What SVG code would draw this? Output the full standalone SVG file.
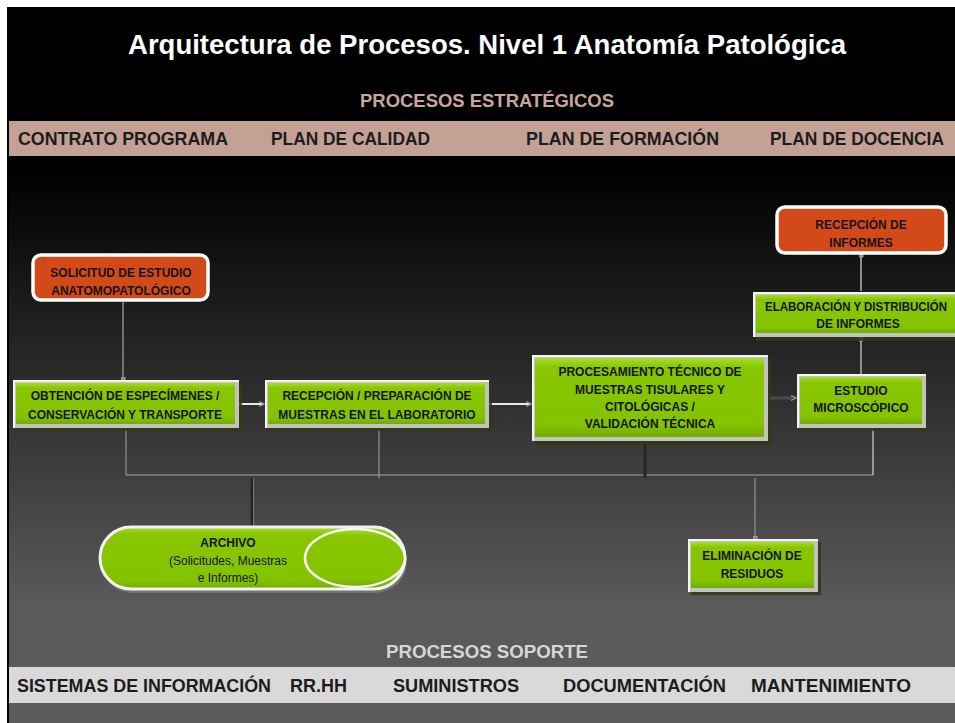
<svg xmlns="http://www.w3.org/2000/svg" width="955" height="723" viewBox="0 0 955 723">
<defs>
<linearGradient id="bg" x1="0" y1="0" x2="0" y2="723" gradientUnits="userSpaceOnUse">
<stop offset="0" stop-color="#000"/>
<stop offset="0.235" stop-color="#000"/>
<stop offset="0.84" stop-color="#5a5a5a"/>
<stop offset="1" stop-color="#5b5b5b"/>
</linearGradient>
<linearGradient id="gr" x1="0" y1="0" x2="0" y2="1">
<stop offset="0" stop-color="#a6dc30"/>
<stop offset="0.12" stop-color="#88c600"/>
<stop offset="0.85" stop-color="#84c300"/>
<stop offset="1" stop-color="#74aa00"/>
</linearGradient>
<marker id="arr" viewBox="0 0 6 6" refX="5" refY="3" markerWidth="6" markerHeight="6" orient="auto" markerUnits="userSpaceOnUse">
<path d="M0,0.5 L5,3 L0,5.5" fill="none" stroke="#9a9a9a" stroke-width="1.2"/>
</marker>
<marker id="dot" viewBox="0 0 6 6" refX="3" refY="3" markerWidth="5" markerHeight="5" orient="auto" markerUnits="userSpaceOnUse">
<rect x="0.5" y="0.5" width="5" height="5" fill="#8a8a8a" stroke="#bbb" stroke-width="0.8"/>
</marker>
</defs>
<style>
.t{font-family:"Liberation Sans",Arial,sans-serif;font-weight:bold}
.n{font-family:"Liberation Sans",Arial,sans-serif;font-weight:bold;font-size:12px;fill:#141414;text-anchor:middle}
.r{font-family:"Liberation Sans",Arial,sans-serif;font-size:12px;fill:#141414;text-anchor:middle}
.band{font-family:"Liberation Sans",Arial,sans-serif;font-weight:bold;font-size:17.5px;fill:#1c1c1c}
.sh{fill:#2f3a14;opacity:0.85}
.bv{fill:#c2c2c2}
.hl{fill:#f4f4f4}
.fc{fill:url(#gr)}
.or{fill:#d24a18;stroke:#ffffff;stroke-width:3.5}
.bus{fill:none;stroke:#a3a3a3;stroke-width:1}
</style>

<rect x="0" y="0" width="955" height="723" fill="#ffffff"/>
<rect x="7" y="7" width="948" height="716" fill="url(#bg)"/>
<rect x="7" y="7" width="2" height="716" fill="#000"/>

<g id="title">
<text class="t" x="487" y="54" font-size="27.5" fill="#ffffff" text-anchor="middle" textLength="718" lengthAdjust="spacingAndGlyphs">Arquitectura de Procesos. Nivel 1 Anatomía Patológica</text>
</g>

<g id="estrategicos">
<text class="t" x="487" y="107" font-size="18.4" fill="#c9a69b" text-anchor="middle" textLength="254" lengthAdjust="spacingAndGlyphs">PROCESOS ESTRATÉGICOS</text>
<rect x="9" y="121" width="946" height="35" fill="#c4a195"/>
<text class="band" x="18" y="145" textLength="210" lengthAdjust="spacingAndGlyphs">CONTRATO PROGRAMA</text>
<text class="band" x="271" y="145" textLength="159" lengthAdjust="spacingAndGlyphs">PLAN DE CALIDAD</text>
<text class="band" x="526" y="145" textLength="193" lengthAdjust="spacingAndGlyphs">PLAN DE FORMACIÓN</text>
<text class="band" x="770" y="145" textLength="174" lengthAdjust="spacingAndGlyphs">PLAN DE DOCENCIA</text>
</g>

<g id="soporte">
<text class="t" x="487" y="658" font-size="18.6" fill="#d6d6d6" text-anchor="middle" textLength="202" lengthAdjust="spacingAndGlyphs">PROCESOS SOPORTE</text>
<rect x="9" y="667" width="946" height="36" fill="#d9d9d9"/>
<text class="band" x="17" y="692" textLength="254" lengthAdjust="spacingAndGlyphs">SISTEMAS DE INFORMACIÓN</text>
<text class="band" x="290" y="692" textLength="57" lengthAdjust="spacingAndGlyphs">RR.HH</text>
<text class="band" x="393" y="692" textLength="126" lengthAdjust="spacingAndGlyphs">SUMINISTROS</text>
<text class="band" x="563" y="692" textLength="163" lengthAdjust="spacingAndGlyphs">DOCUMENTACIÓN</text>
<text class="band" x="751" y="692" textLength="160" lengthAdjust="spacingAndGlyphs">MANTENIMIENTO</text>
</g>

<g id="connectors">
<line x1="123" y1="302" x2="123" y2="379" stroke="#8c8c8c" stroke-width="1.5" marker-end="url(#dot)"/>
<line x1="239" y1="404" x2="264" y2="404" stroke="#e8e8e8" stroke-width="2" marker-end="url(#arr)"/>
<line x1="489" y1="404" x2="531" y2="404" stroke="#e8e8e8" stroke-width="2" marker-end="url(#arr)"/>
<line x1="768" y1="398" x2="796" y2="398" stroke="#4a4a4a" stroke-width="3" marker-end="url(#arr)"/>
<line x1="861" y1="374" x2="861" y2="339" stroke="#8e8e8e" stroke-width="2" marker-end="url(#dot)"/>
<line x1="861" y1="291" x2="861" y2="255" stroke="#8e8e8e" stroke-width="2" marker-end="url(#dot)"/>
<polyline class="bus" points="126,429 126,475 873,475"/>
<line class="bus" x1="379" y1="429" x2="379" y2="478"/>
<line x1="645" y1="442" x2="645" y2="478" stroke="#262626" stroke-width="3"/>
<line x1="873" y1="429" x2="873" y2="475" stroke="#f0f0f0" stroke-width="1"/>
<line x1="252" y1="478" x2="252" y2="526" stroke="#222" stroke-width="2.5"/>
<line x1="253.5" y1="478" x2="253.5" y2="526" stroke="#8a8a8a" stroke-width="0.8"/>
<line x1="755" y1="478" x2="755" y2="538" stroke="#a3a3a3" stroke-width="1" marker-end="url(#dot)"/>
</g>

<g id="n-solicitud">
<rect class="or" x="33" y="255" width="175" height="45" rx="8"/>
<text class="n" x="121" y="277">SOLICITUD DE ESTUDIO</text>
<text class="n" x="121" y="295">ANATOMOPATOLÓGICO</text>
</g>

<g id="n-recepcion-informes">
<rect class="or" x="777" y="207" width="169" height="46" rx="8"/>
<text class="n" x="861" y="229">RECEPCIÓN DE</text>
<text class="n" x="861" y="247">INFORMES</text>
</g>

<g id="n-obtencion">
<rect class="sh" x="16" y="383" width="226" height="48"/>
<rect class="bv" x="13" y="380" width="226" height="48"/>
<rect class="hl" x="13" y="380" width="226" height="2"/>
<rect class="hl" x="13" y="380" width="2" height="48"/>
<rect class="fc" x="16" y="383" width="219" height="41"/>
<text class="n" x="125" y="400">OBTENCIÓN DE ESPECÍMENES /</text>
<text class="n" x="125" y="419">CONSERVACIÓN Y TRANSPORTE</text>
</g>

<g id="n-recepcion">
<rect class="sh" x="268" y="383" width="224" height="48"/>
<rect class="bv" x="265" y="380" width="224" height="48"/>
<rect class="hl" x="265" y="380" width="224" height="2"/>
<rect class="hl" x="265" y="380" width="2" height="48"/>
<rect class="fc" x="268" y="383" width="217" height="41"/>
<text class="n" x="377" y="400">RECEPCIÓN / PREPARACIÓN DE</text>
<text class="n" x="377" y="419">MUESTRAS EN EL LABORATORIO</text>
</g>

<g id="n-procesamiento">
<rect class="sh" x="536" y="359" width="235" height="86"/>
<rect class="bv" x="532" y="355" width="236" height="86"/>
<rect class="hl" x="532" y="355" width="236" height="2"/>
<rect class="hl" x="532" y="355" width="2" height="86"/>
<rect class="fc" x="535" y="358" width="229" height="79"/>
<text class="n" x="650" y="376">PROCESAMIENTO TÉCNICO DE</text>
<text class="n" x="650" y="394">MUESTRAS TISULARES Y</text>
<text class="n" x="650" y="411">CITOLÓGICAS /</text>
<text class="n" x="650" y="428">VALIDACIÓN TÉCNICA</text>
</g>

<g id="n-estudio">
<rect class="sh" x="800" y="378" width="128" height="53"/>
<rect class="bv" x="797" y="374" width="129" height="54"/>
<rect class="hl" x="797" y="374" width="129" height="2"/>
<rect class="hl" x="797" y="374" width="2" height="54"/>
<rect class="fc" x="800" y="377" width="122" height="47"/>
<text class="n" x="861" y="395">ESTUDIO</text>
<text class="n" x="861" y="412">MICROSCÓPICO</text>
</g>

<g id="n-elaboracion">
<rect class="sh" x="756" y="295" width="210" height="46"/>
<rect class="bv" x="753" y="292" width="210" height="45"/>
<rect class="hl" x="753" y="292" width="210" height="2"/>
<rect class="hl" x="753" y="292" width="2" height="45"/>
<rect class="fc" x="756" y="295" width="210" height="38"/>
<text class="n" x="856" y="311" textLength="182" lengthAdjust="spacingAndGlyphs">ELABORACIÓN Y DISTRIBUCIÓN</text>
<text class="n" x="858" y="328">DE INFORMES</text>
</g>

<g id="n-eliminacion">
<rect class="sh" x="691" y="542" width="130" height="53"/>
<rect class="bv" x="688" y="539" width="130" height="53"/>
<rect class="hl" x="688" y="539" width="130" height="2"/>
<rect class="hl" x="688" y="539" width="2" height="53"/>
<rect class="fc" x="691" y="542" width="123" height="46"/>
<text class="n" x="752" y="560">ELIMINACIÓN DE</text>
<text class="n" x="752" y="578">RESIDUOS</text>
</g>

<g id="n-archivo">
<rect x="101" y="530" width="306" height="63" rx="31.5" fill="#7a7a7a" opacity="0.8"/>
<rect x="100" y="527" width="305" height="62" rx="31" fill="url(#gr)" stroke="#f2f2f2" stroke-width="3"/>
<ellipse cx="355" cy="558" rx="50" ry="29" fill="url(#gr)" stroke="#f5f5f5" stroke-width="2.5"/>
<text class="n" x="228" y="547">ARCHIVO</text>
<text class="r" x="228" y="565">(Solicitudes, Muestras</text>
<text class="r" x="228" y="582">e Informes)</text>
</g>
</svg>
